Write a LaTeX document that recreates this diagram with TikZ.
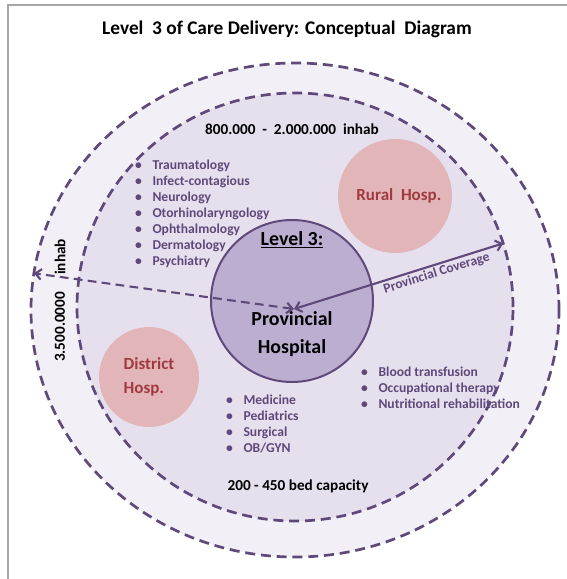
\documentclass[tikz,border=0pt]{standalone}
\usepackage{fontspec}
\setmainfont{Carlito}
\usetikzlibrary{arrows.meta,shapes.geometric}

\definecolor{plum}{HTML}{5F497A}
\definecolor{ringout}{HTML}{F2EFF6}
\definecolor{ringin}{HTML}{E6E0EE}
\definecolor{provfill}{HTML}{BCAED0}
\definecolor{hospfill}{HTML}{E2B6B9}
\definecolor{hosptext}{HTML}{A03A3F}

\begin{document}
\begin{tikzpicture}[x=0.03cm, y=-0.03cm,
		zone/.style={ellipse, draw=plum, line width=2.3pt, dash pattern=on 8.5pt off 5pt, inner sep=0pt, outer sep=0pt},
		hosp/.style={circle, fill=hospfill, text=hosptext, align=left, inner sep=0pt,
			font=\fontsize{14.5}{20}\selectfont\bfseries},
		spec/.style={text=plum, align=left, inner sep=0pt, font=\fontsize{11.6}{13.6}\selectfont\bfseries},
		caption/.style={inner sep=0pt, font=\fontsize{13}{15}\selectfont\bfseries},
		reach/.style={draw=plum, line width=1.8pt, <->, >={Straight Barb[length=5pt,width=9pt]}}]
		\useasboundingbox (0,0) rectangle (567,579);
		\draw[gray!70, line width=1.2pt] (8,579) -- (8,5) -- (567,5);
		\node[font=\fontsize{16.5}{20}\selectfont\bfseries] (title) at (287,29) {Level\ \ 3 of Care Delivery: Conceptual\ \ Diagram};
		% coverage zones
		\node[zone, fill=ringout, minimum width=15.84cm, minimum height=14.82cm] (outer) at (295,310) {};
		\node[zone, fill=ringin, minimum width=13.08cm, minimum height=12.84cm] (inner) at (295,307) {};
		% hospitals
		\node[hosp, minimum size=3.42cm] (rural) at (395,196) {\ \ Rural\ \ Hosp.};
		\node[hosp, minimum size=3cm] (district) at (149,377) {District\\Hosp.};
		\node[circle, draw=plum, fill=provfill, line width=1.7pt, minimum size=4.86cm] (prov) at (292,301) {};
		\node[font=\fontsize{17}{24}\selectfont\bfseries] (lvl) at (292,240) {\underline{Level 3:}};
		\node[font=\fontsize{17}{24}\selectfont\bfseries, align=center] (provname) at (292,334) {Provincial\\Hospital};
		% population and capacity
		\node[caption] (popin) at (292,129) {800.000\ \ -\ \ 2.000.000\ \ inhab};
		\node[caption] (beds) at (298,486) {200 - 450 bed capacity};
		\node[caption, rotate=90] (popout) at (60,327) {3.500.0000};
		\node[caption, rotate=90] (popunit) at (60,257) {inhab};
		% specialties
		\node[spec, anchor=west] (specs) at (135,214) {\textbullet\hspace{9pt}Traumatology\\
			\textbullet\hspace{9pt}Infect-contagious\\
			\textbullet\hspace{9pt}Neurology\\
			\textbullet\hspace{9pt}Otorhinolaryngology\\
			\textbullet\hspace{9pt}Ophthalmology\\
			\textbullet\hspace{9pt}Dermatology\\
			\textbullet\hspace{9pt}Psychiatry};
		\node[spec, anchor=west] (basics) at (226,424) {\textbullet\hspace{9pt}Medicine\\
			\textbullet\hspace{9pt}Pediatrics\\
			\textbullet\hspace{9pt}Surgical\\
			\textbullet\hspace{9pt}OB/GYN};
		\node[spec, anchor=west] (support) at (361,388) {\textbullet\hspace{9pt}Blood transfusion\\
			\textbullet\hspace{9pt}Occupational therapy\\
			\textbullet\hspace{9pt}Nutritional rehabilitation};
		% reach of the provincial hospital
		\coordinate (hub) at (294,309);
		\draw[reach, dash pattern=on 7.5pt off 4.5pt] (hub) -- (outer.172.8);
		\draw[reach] (hub) -- node[pos=0.67, sloped, below, text=plum, inner sep=1.5pt,
			font=\fontsize{11.6}{13.6}\selectfont\bfseries] (cover) {Provincial Coverage} (inner.17.6);
	\end{tikzpicture}
\end{document}
